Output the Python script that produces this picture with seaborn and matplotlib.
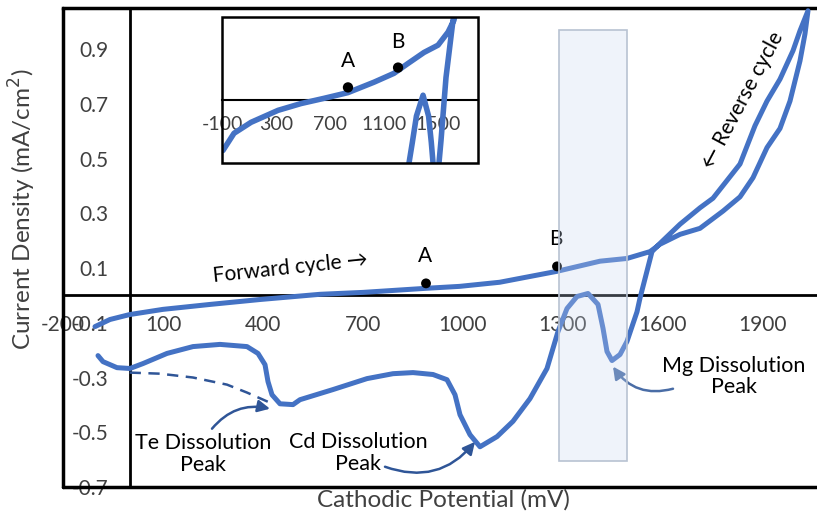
import numpy as np
import pandas as pd
import matplotlib
matplotlib.use("Agg")
import matplotlib.pyplot as plt
from matplotlib.patches import Rectangle
import seaborn as sns

# forward sweep (main plot)
fwd_x = [-104, -59, 0, 100, 241, 391, 571, 700, 890, 990, 1110, 1282, 1411, 1492,
         1561, 1591, 1651, 1711, 1780, 1831, 1870, 1912, 1951, 1981, 2011, 2026, 2035]
fwd_y = [-0.114, -0.088, -0.07, -0.051, -0.033, -0.015, 0.004, 0.011, 0.026, 0.033,
         0.048, 0.088, 0.125, 0.135, 0.16, 0.187, 0.223, 0.245, 0.308, 0.36, 0.43, 0.54,
         0.61, 0.71, 0.857, 0.956, 1.04]

# reverse sweep (main plot)
rev_x = [2035, 2011, 1990, 1951, 1912, 1876, 1831, 1750, 1711, 1651, 1591, 1567, 1531,
         1522, 1492, 1471, 1447, 1432, 1420, 1405, 1375, 1342, 1312, 1285, 1252, 1201,
         1150, 1102, 1051, 1021, 991, 976, 952, 910, 850, 790, 712, 610, 511, 490, 451,
         427, 415, 406, 385, 352, 271, 190, 112, 40, 1, -38, -80, -95]
rev_y = [1.04, 0.967, 0.894, 0.79, 0.71, 0.62, 0.48, 0.355, 0.32, 0.26, 0.19, 0.16,
         -0.01, -0.06, -0.168, -0.216, -0.238, -0.205, -0.12, -0.033, 0.007, -0.004,
         -0.048, -0.132, -0.267, -0.377, -0.46, -0.516, -0.553, -0.509, -0.436, -0.363,
         -0.308, -0.289, -0.282, -0.286, -0.304, -0.344, -0.381, -0.399, -0.396, -0.363,
         -0.315, -0.253, -0.212, -0.187, -0.179, -0.187, -0.212, -0.249, -0.267, -0.264,
         -0.242, -0.22]

# dashed baseline under the Te peak
dash_x = [0, 91, 190, 292, 352, 421]
dash_y = [-0.282, -0.286, -0.30, -0.326, -0.355, -0.392]

# points A and B
pt_labels = ["A", "B"]
pt_x = [889, 1282]
pt_y = [0.044, 0.106]

# inset curve
ins_x = [-93, -11, 115, 315, 485, 655, 833, 1026, 1174, 1278, 1396, 1500, 1574, 1618,
         1630, 1611, 1559, 1522, 1507, 1490, 1480, 1463, 1450, 1430, 1389, 1340, 1310,
         1285, 1250]
ins_y = [-0.096, -0.063, -0.042, -0.019, -0.006, 0.004, 0.015, 0.035, 0.052, 0.071,
         0.092, 0.106, 0.131, 0.154, 0.175, 0.154, 0.044, -0.077, -0.12, -0.2, -0.24,
         -0.12, -0.08, -0.03, 0.01, -0.03, -0.08, -0.12, -0.25]
ins_pt_x = [833, 1204]
ins_pt_y = [0.025, 0.063]

xticks = [-200, 100, 400, 700, 1000, 1300, 1600, 1900]
yticks = [-0.7, -0.5, -0.3, -0.1, 0.1, 0.3, 0.5, 0.7, 0.9]
ins_xticks = [-100, 300, 700, 1100, 1500]

sns.set_theme(style="white")
plt.rcParams["font.family"] = ["Lato", "DejaVu Sans"]

blue = "#4472C4"
dark = "#2F5597"
grey = "#404040"

curve = pd.DataFrame({"x": fwd_x + rev_x, "y": fwd_y + rev_y})
dash = pd.DataFrame({"x": dash_x, "y": dash_y})

fig = plt.figure(figsize=(8.17, 5.19), dpi=100)
ax = fig.add_axes([63 / 817, 32 / 519, 754 / 817, 479 / 519])

sns.lineplot(data=curve, x="x", y="y", sort=False, estimator=None, color=blue,
             lw=3.6, ax=ax, zorder=3)
sns.lineplot(data=dash, x="x", y="y", sort=False, estimator=None, color=dark,
             lw=1.8, ax=ax, zorder=3, linestyle=(0, (4.5, 3)))
sns.scatterplot(x=pt_x, y=pt_y, color="black", s=50, ax=ax, zorder=4, edgecolor="none")
for lab, px, py in zip(pt_labels, pt_x, pt_y):
    ax.text(px - 3, py + 0.1, lab, ha="center", va="center", fontsize=15, color="black")

# highlighted Mg region
ax.add_patch(Rectangle((1288, -0.605), 204, 1.575, facecolor=(0.78, 0.84, 0.94, 0.28),
                       edgecolor="#b8c2d2", lw=1.2, zorder=5))

ax.set_xlim(-200, 2062)
ax.set_ylim(-0.7, 1.05)
ax.spines["left"].set_position(("data", 0))
ax.spines["bottom"].set_position(("data", 0))
ax.spines["right"].set_visible(False)
for s in ["left", "bottom"]:
    ax.spines[s].set_linewidth(2)
    ax.spines[s].set_color("black")
ax.spines["top"].set_linewidth(2.5)
ax.spines["top"].set_color("black")
ax.plot([0, 0], [0, 1], transform=ax.transAxes, color="black", lw=2.5, clip_on=False)
ax.plot([0, 1], [0, 0], transform=ax.transAxes, color="black", lw=2.5, clip_on=False)

ax.set_xticks(xticks)
ax.set_xticklabels([str(v) for v in xticks])
ax.set_yticks(yticks)
ax.set_yticklabels([f"{v:.1f}" for v in yticks])
ax.tick_params(axis="both", direction="out", length=5, width=1.5, color="black",
               labelsize=15, labelcolor=grey)
ax.tick_params(axis="x", pad=9)
ax.tick_params(axis="y", pad=10)
ax.set_xlabel("")
ax.set_ylabel("")

fig.text(443 / 817, 1 - 500 / 519, "Cathodic Potential (mV)", ha="center", va="center",
         fontsize=17.5, color=grey)
fig.text(22 / 817, 1 - 209 / 519, "Current Density (mA/cm$^2$)", ha="center", va="center",
         rotation=90, fontsize=17.5, color=grey)

# annotations
ax.text(220, -0.579, "Te Dissolution\nPeak", ha="center", va="center", fontsize=15.5,
        color="black", linespacing=1.1)
ax.annotate("", xy=(421, -0.414), xytext=(247, -0.487),
            arrowprops=dict(arrowstyle="-|>", connectionstyle="arc3,rad=-0.3", color=dark,
                            lw=1.8, mutation_scale=18, shrinkA=0, shrinkB=0))
ax.text(685, -0.575, "Cd Dissolution\nPeak", ha="center", va="center", fontsize=15.5,
        color="black", linespacing=1.1)
ax.annotate("", xy=(1036, -0.535), xytext=(766, -0.626),
            arrowprops=dict(arrowstyle="-|>", connectionstyle="arc3,rad=0.35", color=dark,
                            lw=1.8, mutation_scale=18, shrinkA=0, shrinkB=0))
ax.text(1813, -0.297, "Mg Dissolution\nPeak", ha="center", va="center", fontsize=15.5,
        color="black", linespacing=1.1)
ax.annotate("", xy=(1450, -0.26), xytext=(1630, -0.341),
            arrowprops=dict(arrowstyle="-|>", connectionstyle="arc3,rad=-0.35", color="#4a6da6",
                            lw=1.8, mutation_scale=18, shrinkA=0, shrinkB=0))
ax.text(481, 0.099, "Forward cycle \u2192", ha="center", va="center", fontsize=15,
        rotation=6, color="black")
ax.text(1840, 0.714, "\u2190 Reverse cycle", ha="center", va="center", fontsize=15,
        rotation=62, color="black")

# inset
ins = fig.add_axes([222 / 817, 1 - 163 / 519, 256 / 817, 146 / 519])
ins.set_facecolor("white")
ins_df = pd.DataFrame({"x": ins_x, "y": ins_y})
sns.lineplot(data=ins_df, x="x", y="y", sort=False, estimator=None, color=blue,
             lw=4, ax=ins, zorder=3)
sns.scatterplot(x=ins_pt_x, y=ins_pt_y, color="black", s=55, ax=ins, zorder=4,
                edgecolor="none")
for lab, px, py in zip(pt_labels, ins_pt_x, ins_pt_y):
    ins.text(px, py + 0.05, lab, ha="center", va="center", fontsize=15, color="black")
ins.set_xlim(-100, 1796)
ins.set_ylim(-0.12, 0.16)
ins.spines["bottom"].set_position(("data", 0))
ins.spines["bottom"].set_linewidth(1.5)
ins.spines["bottom"].set_color("black")
for s in ["left", "right", "top"]:
    ins.spines[s].set_visible(False)
ins.add_patch(Rectangle((0, 0), 1, 1, transform=ins.transAxes, fill=False,
                        edgecolor="black", lw=1.8, clip_on=False, zorder=6))
ins.set_xticks(ins_xticks)
ins.set_xticklabels([str(v) for v in ins_xticks])
ins.set_yticks([])
ins.tick_params(axis="x", direction="out", length=5, width=1.2, color="black",
                labelsize=14, labelcolor=grey, pad=6)
ins.set_xlabel("")
ins.set_ylabel("")

fig.savefig("out.png", dpi=100)
